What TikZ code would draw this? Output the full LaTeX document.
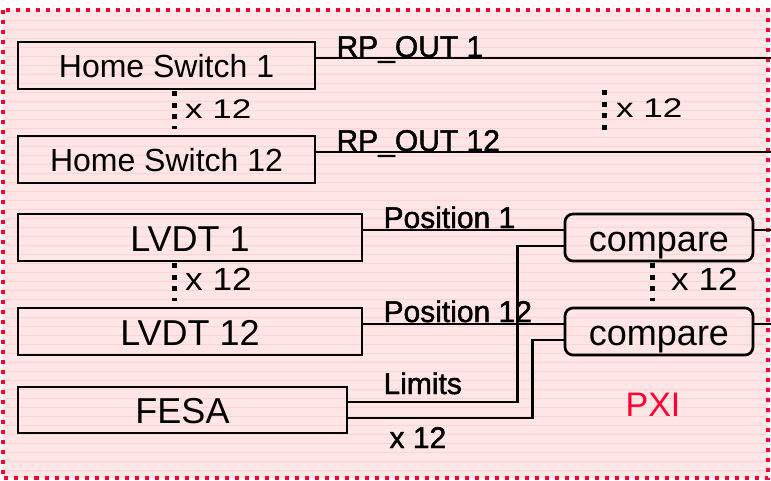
\documentclass[tikz,border=0pt]{standalone}
\usepackage{fontspec}
\setmainfont{Liberation Sans}
\newfontfamily\heavyfont[FakeBold=1.5]{Liberation Sans}
\usepackage{graphicx}
\usetikzlibrary{positioning,calc}
\usepackage{xcolor}
\definecolor{pxired}{HTML}{FF0033}
\definecolor{pxibg}{HTML}{FFE6E6}
\definecolor{pxiline}{HTML}{FFD3D3}

\begin{document}
\begin{tikzpicture}[x=1pt,y=-1pt,
    blk/.style={draw,line width=2.7pt,minimum height=47pt,inner sep=0pt,
      text height=27pt,text depth=0pt,font=\fontsize{36}{40}\selectfont},
    hsblk/.style={blk,minimum width=297pt,text height=24pt,font=\fontsize{32}{36}\selectfont},
    cmpbox/.style={blk,rounded corners=8pt,minimum width=188pt},
    sig/.style={line width=2.7pt},
    siglab/.style={anchor=base west,inner sep=0pt,font=\heavyfont\fontsize{30}{34}\selectfont},
    rep/.style={line width=5pt,dash pattern=on 5pt off 6.5pt},
    replab/.style={anchor=base west,inner sep=0pt}]
  \useasboundingbox (0,0) rectangle (771,480);
  % PXI frame
  \fill[pxibg] (2.5,10) rectangle (768,478);
  \foreach \y in {20,29,...,470}
    \draw[pxiline,line width=0.8pt] (5,\y) -- (766,\y);
  \draw[pxired,line width=4pt,dash pattern=on 4pt off 6pt] (2.5,10) rectangle (768,478);
  \node[pxired,font=\fontsize{34}{38}\selectfont] (pxi) at (653,405) {PXI};

  \node[hsblk] (hs1) at (166.5,65.5) {Home Switch 1};
  \node[hsblk] (hs12) at (166.5,159.5) {Home Switch 12};
  \node[blk,minimum width=344pt] (lvdt1) at (190,237.5) {LVDT 1};
  \node[blk,minimum width=344pt] (lvdt12) at (190,331.5) {LVDT 12};
  \node[blk,minimum width=329pt,minimum height=46pt] (fesa) at (182.5,410) {FESA};
  \node[cmpbox] (cmp1) at (659,237.5) {compare};
  \node[cmpbox] (cmp12) at (659,331.5) {compare};

  \coordinate (rp1) at (771,58);
  \coordinate (rp12) at (771,152);
  \coordinate (res1) at (771,230);
  \coordinate (res12) at (771,324);

  \draw[sig] ([yshift=7.5pt]hs1.east) -- (rp1);
  \draw[sig] ([yshift=7.5pt]hs12.east) -- (rp12);
  \draw[sig] ([yshift=7.5pt]lvdt1.east) -- ([yshift=7.5pt]cmp1.west);
  \draw[sig] ([yshift=7.5pt]lvdt12.east) -- ([yshift=7.5pt]cmp12.west);
  \draw[sig] ([yshift=8pt]fesa.east) -| ([xshift=-46pt,yshift=-8.5pt]cmp1.west)
    -- ([yshift=-8.5pt]cmp1.west);
  \draw[sig] ([yshift=-8pt]fesa.east) -| ([xshift=-31pt,yshift=-8.5pt]cmp12.west)
    -- ([yshift=-8.5pt]cmp12.west);
  \draw[sig] ([yshift=7.5pt]cmp1.east) -- (res1);
  \draw[sig] ([yshift=7.5pt]cmp12.east) -- (res12);

  \node[siglab] (rplab1) at ([xshift=20pt,yshift=8.5pt]hs1.east) {RP\_OUT 1};
  \node[siglab] (rplab12) at ([xshift=20pt,yshift=8.5pt]hs12.east) {RP\_OUT 12};
  \node[siglab] (poslab1) at ([xshift=20pt,yshift=9.5pt]lvdt1.east) {Position 1};
  \node[siglab] (poslab12) at ([xshift=20pt,yshift=9.5pt]lvdt12.east) {Position 12};
  \node[siglab] (limlab) at ([xshift=35pt,yshift=16pt]fesa.east) {Limits};
  \node[siglab] (fesarep) at ([xshift=41pt,yshift=-38pt]fesa.east) {x 12};

  % x 12 repeats
  \draw[rep] ([xshift=7.5pt,yshift=-1pt]hs1.south) -- ([xshift=7.5pt,yshift=6pt]hs12.north);
  \draw[rep] (604,90) -- (604,130);
  \draw[rep] ([xshift=-16pt,yshift=-1pt]lvdt1.south) -- ([xshift=-16pt,yshift=6pt]lvdt12.north);
  \draw[rep] ([xshift=-7pt,yshift=-1pt]cmp1.south) -- ([xshift=-7pt,yshift=6pt]cmp12.north);
  \foreach \x/\y/\nm in {185/118/hsrep, 616/117/outrep}
    \node[replab,font=\fontsize{27}{30}\selectfont] (\nm) at (\x,\y) {\scalebox{1.3}[1]{x 12}};
  \foreach \x/\y/\nm in {185/290/lvdtrep, 671/290/cmprep}
    \node[replab,font=\fontsize{32}{36}\selectfont] (\nm) at (\x,\y) {\scalebox{1.1}[1]{x 12}};
\end{tikzpicture}
\end{document}
